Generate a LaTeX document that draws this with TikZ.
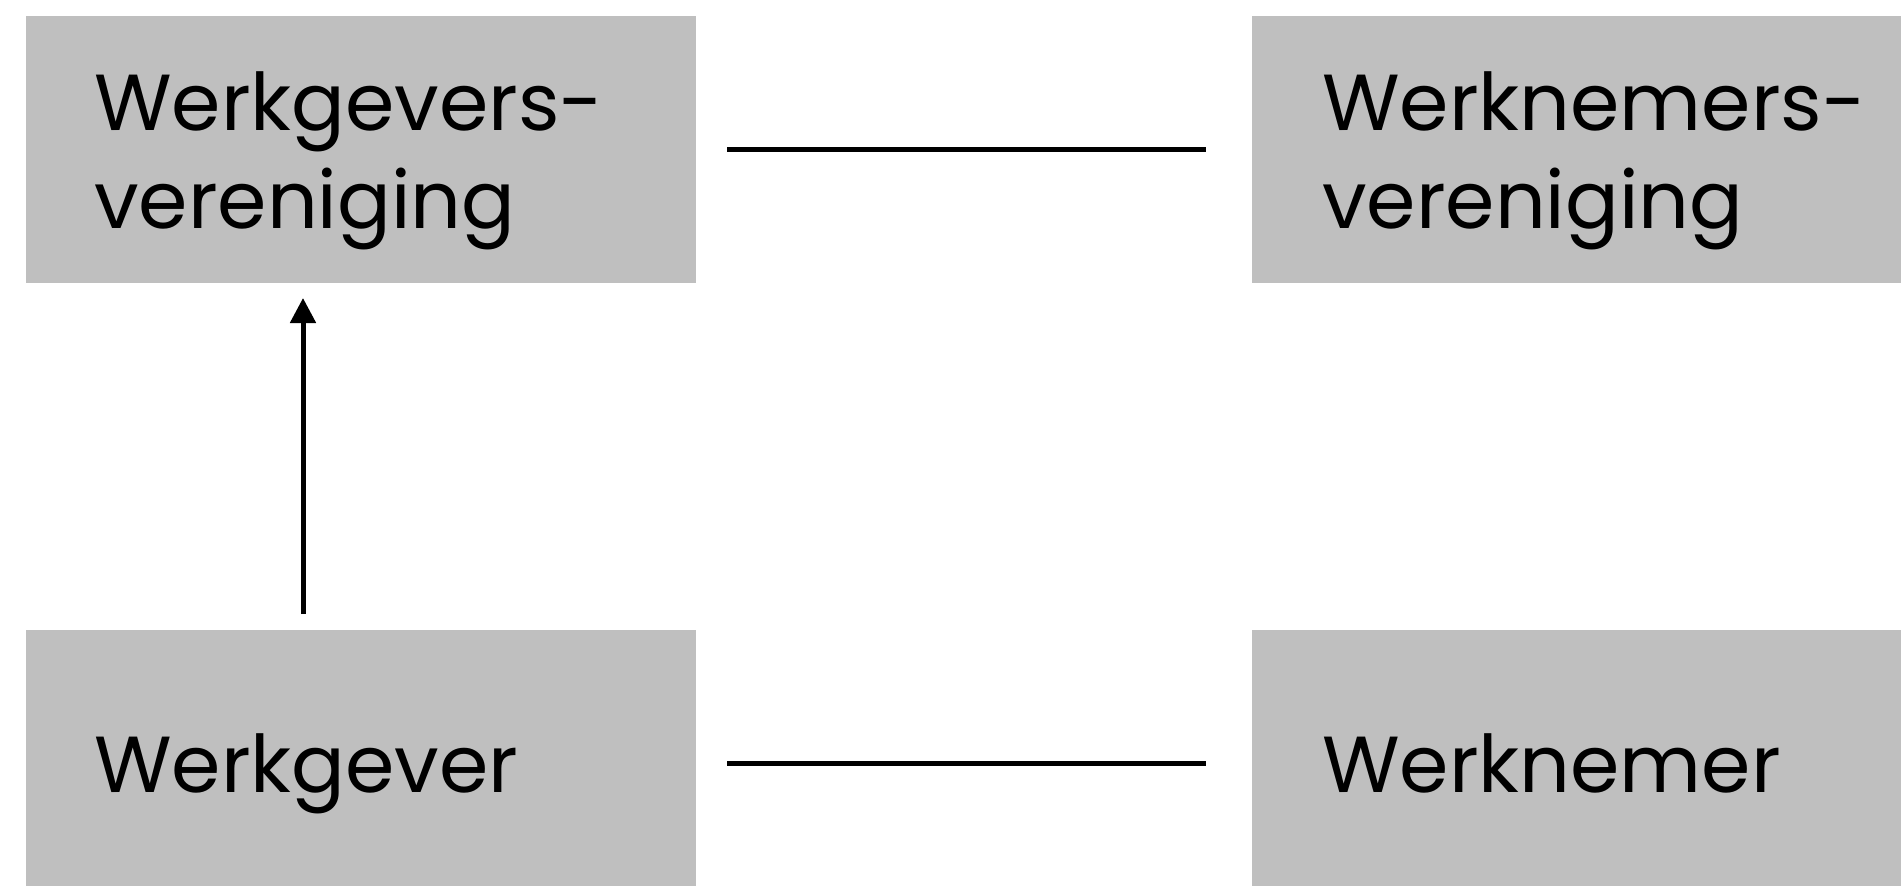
\documentclass[tikz,border=0pt]{standalone}
\usepackage{fontspec}
\setmainfont{Poppins}
\usetikzlibrary{arrows.meta}
\definecolor{boxgray}{RGB}{191,191,191}
\tikzset{
  box/.style={fill=boxgray, draw=none, rectangle, inner sep=0pt, anchor=north west},
  lbl/.style={anchor=base west, inner sep=0pt, font=\fontsize{79.5}{98}\selectfont, text=black},
  conn/.style={line width=5pt, draw=black},
  arr/.style={conn, -{Triangle[length=25pt,width=25pt]}}
}
\begin{document}
\begin{tikzpicture}[x=1pt,y=-1pt]
\useasboundingbox (0,0) rectangle (1901,886);
\fill[white] (0,0) rectangle (1901,886);
\node[box, minimum width=670pt, minimum height=267pt] (wgv) at (26,16) {};
\node[box, minimum width=649pt, minimum height=267pt] (wnv) at (1252,16) {};
\node[box, minimum width=670pt, minimum height=256pt] (wg) at (26,630) {};
\node[box, minimum width=649pt, minimum height=256pt] (wn) at (1252,630) {};
\node[lbl] (t1a) at (94,130) {Werkgevers-};
\node[lbl] (t1b) at (94,228) {vereniging};
\node[lbl] (t2a) at (1322,130) {Werknemers-};
\node[lbl] (t2b) at (1322,228) {vereniging};
\node[lbl] (t3) at (94,792) {Werkgever};
\node[lbl] (t4) at (1322,792) {Werknemer};
\coordinate (l1a) at (727,149.5);
\coordinate (l1b) at (1206,149.5);
\coordinate (l2a) at (727,763);
\coordinate (l2b) at (1206,763);
\coordinate (aS) at (303,614);
\coordinate (aE) at (303,298);
\draw[conn] (l1a) -- (l1b);
\draw[conn] (l2a) -- (l2b);
\draw[arr] (aS) -- (aE);
\end{tikzpicture}
\end{document}
